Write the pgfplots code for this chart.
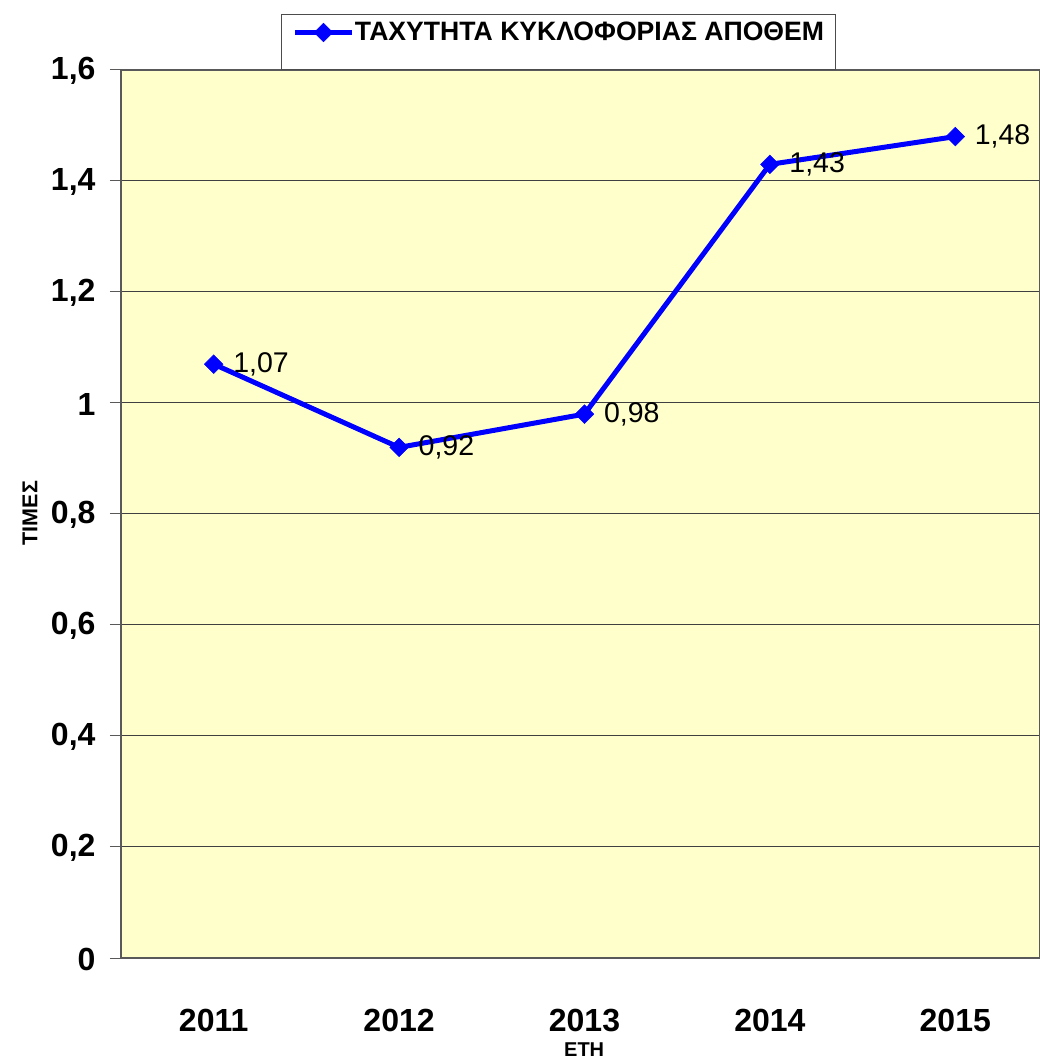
\documentclass[border=0pt]{standalone}
\usepackage{fontspec}
\setmainfont{Liberation Sans}
\usepackage{pgfplots}
\pgfplotsset{compat=1.18}
\definecolor{bgyellow}{HTML}{FFFFCC}
\definecolor{lineblue}{HTML}{0000FF}
\begin{document}
\begin{tikzpicture}
\begin{axis}[
  at={(0pt,0pt)}, anchor=south west,
  scale only axis,
  width=919pt, height=888pt,
  xmin=-0.5, xmax=4.457,
  ymin=0, ymax=1.6,
  axis background/.style={fill=bgyellow},
  axis line style={draw=black!65, line width=1.2pt},
  xtick={0,1,2,3,4},
  xticklabels={2011,2012,2013,2014,2015},
  major x tick style={draw=none},
  extra x ticks={-0.5,0.5,1.5,2.5,3.5},
  extra x tick labels={},
  extra x tick style={grid=none, major tick length=10pt, tick style={draw=black!65, line width=1pt}},
  ytick={0,0.2,0.4,0.6,0.8,1,1.2,1.4,1.6},
  ymajorgrids,
  major grid style={draw=black!75, line width=1pt},
  tick align=outside,
  tick pos=left,
  major tick length=11pt,
  ytick style={draw=black!65, line width=1pt},
  /pgf/number format/assume math mode=true,
  /pgf/number format/use comma,
  yticklabel style={font=\bfseries\fontsize{32}{34}\selectfont, xshift=-11pt, yshift=-1pt, /pgf/number format/fixed, /pgf/number format/precision=1},
  xticklabel style={font=\bfseries\fontsize{32}{34}\selectfont, yshift=-37pt},
  xlabel={ΕΤΗ},
  ylabel={ΤΙΜΕΣ},
  xlabel style={font=\bfseries\fontsize{20}{22}\selectfont, at={([yshift=-92pt]axis description cs:0.504,0)}, anchor=center},
  ylabel style={font=\bfseries\fontsize{21.5}{23}\selectfont, at={([xshift=-91pt]axis description cs:0,0.501)}, anchor=center},
  clip=false,
  nodes near coords,
  point meta=y,
  nodes near coords align=horizontal,
  every node near coord/.append style={font=\fontsize{28.5}{30}\selectfont, color=black, anchor=west, xshift=16pt, /pgf/number format/fixed, /pgf/number format/fixed zerofill, /pgf/number format/precision=2, /pgf/number format/use comma},
  legend style={at={(axis description cs:0.1741,1)}, anchor=south west,
    font=\bfseries\fontsize{26.6}{28}\selectfont, draw=black!70, line width=1pt, fill=white,
    inner xsep=11pt, inner ysep=7pt,
    nodes={inner xsep=0pt, inner ysep=0pt, text height=19pt, text depth=22pt}},
  legend image code/.code={\draw[mark repeat=2,mark phase=2,#1] plot coordinates {(0pt,9.5pt) (28.5pt,9.5pt) (57pt,9.5pt)}; \path[draw=none,fill=none] (1pt,-15pt) rectangle (60pt,18pt);},
]
\addplot[color=lineblue, line width=5pt, mark=square*, mark size=6.6pt, mark options={solid, rotate=45, fill=lineblue, draw=lineblue, line width=0.5pt}]
  coordinates {(0,1.07) (1,0.92) (2,0.98) (3,1.43) (4,1.48)};
\addlegendentry{ΤΑΧΥΤΗΤΑ ΚΥΚΛΟΦΟΡΙΑΣ ΑΠΟΘΕΜ}
\end{axis}
\pgfresetboundingbox
\path (-121pt,-105pt) rectangle (919pt,958pt);
\end{tikzpicture}
\end{document}
